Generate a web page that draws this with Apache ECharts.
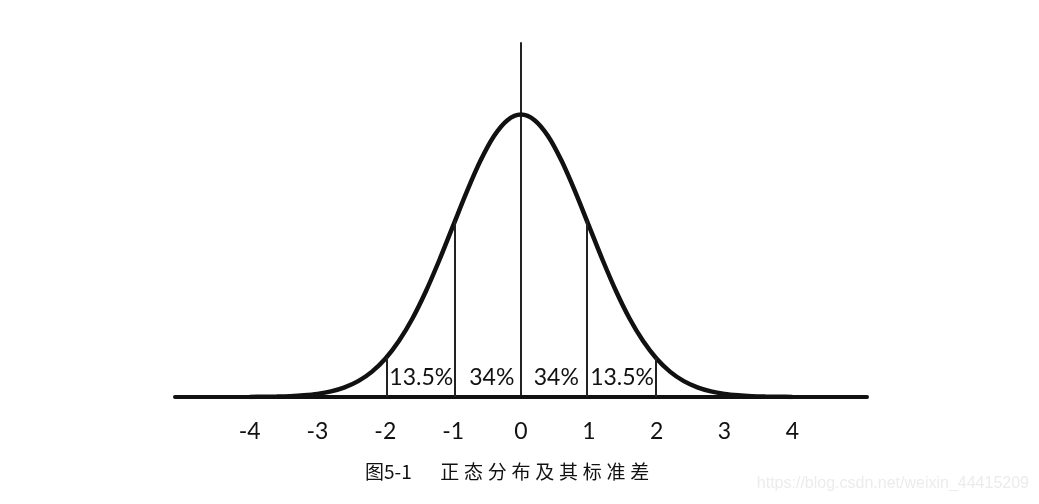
<!DOCTYPE html>
<html>
<head>
<meta charset="utf-8">
<script src="https://cdn.jsdelivr.net/npm/echarts@6/dist/echarts.min.js"></script>
<style>html,body{margin:0;padding:0;background:#fff}#c{width:1039px;height:504px}</style>
</head>
<body>
<div id="c"></div>
<script>
// curve points (x in standard deviations, y height)
var curveX = [-4,-3.8,-3.6,-3.4,-3.2,-3,-2.8,-2.6,-2.4,-2.2,-2,-1.8,-1.6,-1.4,-1.2,-1,-0.8,-0.6,-0.4,-0.2,0,0.2,0.4,0.6,0.8,1,1.2,1.4,1.6,1.8,2,2.2,2.4,2.6,2.8,3,3.2,3.4,3.6,3.8,4];
var curveY = [0.0001,0.0003,0.0006,0.0012,0.0024,0.0044,0.0079,0.0136,0.0224,0.0355,0.0540,0.0790,0.1109,0.1497,0.1942,0.2420,0.2897,0.3332,0.3683,0.3910,0.3989,0.3910,0.3683,0.3332,0.2897,0.2420,0.1942,0.1497,0.1109,0.0790,0.0540,0.0355,0.0224,0.0136,0.0079,0.0044,0.0024,0.0012,0.0006,0.0003,0.0001];
var tickLabels = [-4,-3,-2,-1,0,1,2,3,4];
var dividerX = [-1.98,-0.97,0.97,1.98];
var dividerTop = [0.0562,0.2494,0.2494,0.0562];
var pctX = [-1.47,-0.43,0.52,1.49];
var pctText = ['13.5%','34%','34%','13.5%'];
var pctY = 0.028;
var titleText = '图5-1\u2003\u2002正\u2005态\u2005分\u2005布\u2005及\u2005其\u2005标\u2005准\u2005差';
var watermark = 'https://blog.csdn.net/weixin_44415209';

var chart = echarts.init(document.getElementById('c'));
var curve = curveX.map(function(x,i){return [x, curveY[i]];});
var dividers = dividerX.map(function(x,i){return [{coord:[x,0]},{coord:[x,dividerTop[i]]}];});
var pcts = pctX.map(function(x,i){return {value:[x,pctY], label:{formatter:pctText[i]}};});

chart.setOption({
  animation:false,
  backgroundColor:'#ffffff',
  grid:{left:175, right:172, top:43, bottom:107},
  xAxis:{
    type:'value', min:-5.1, max:5.1,
    splitLine:{show:false},
    axisTick:{show:false},
    axisLine:{show:true, onZero:true, lineStyle:{color:'#111', width:4, cap:'round'}},
    axisLabel:{customValues:tickLabels, margin:23, color:'#111', fontSize:23, fontFamily:'Lato',
      formatter:function(v){return String(v);}}
  },
  yAxis:{
    type:'value', min:0, max:0.5,
    splitLine:{show:false},
    axisTick:{show:false},
    axisLabel:{show:false},
    axisLine:{show:true, onZero:true, lineStyle:{color:'#222', width:2}}
  },
  series:[
    {
      type:'line', data:curve, smooth:0.3, symbol:'none',
      lineStyle:{color:'#111', width:4.5},
      z:3,
      markLine:{
        silent:true, symbol:['none','none'],
        lineStyle:{color:'#222', width:2, type:'solid'},
        label:{show:false},
        data:dividers
      }
    },
    {
      type:'scatter', data:pcts, symbolSize:0,
      itemStyle:{opacity:1},
      label:{show:true, position:'inside', color:'#111', fontSize:23, fontFamily:'Lato', opacity:1},
      z:4
    }
  ],
  graphic:[
    {type:'text', left:365, top:462, style:{text:titleText, fontSize:19, fontFamily:'Noto Sans CJK SC', fill:'#111'}},
    {type:'text', right:10, top:476, style:{text:watermark, fontSize:16, fontFamily:'Liberation Sans', fill:'#ececec'}}
  ]
});
</script>
</body>
</html>
